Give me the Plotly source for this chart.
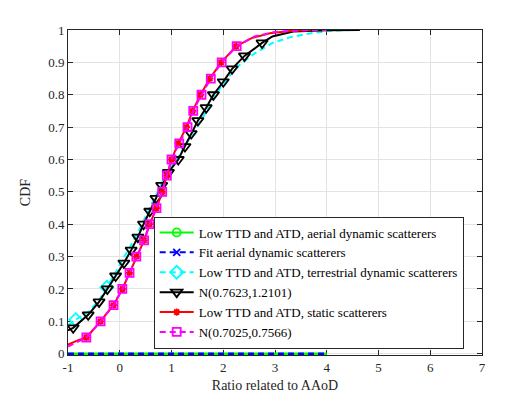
import plotly.graph_objects as go

# CDF of ratio related to AAoD

# aerial dynamic scatterers (flat at zero up to 4)
aerial_x = [-1, 0, 1, 2, 3, 4]
aerial_y = [0, 0, 0, 0, 0, 0]
fit_aerial_x = [-1, 0, 1, 2, 3, 4]
fit_aerial_y = [0, 0, 0, 0, 0, 0]

# terrestrial dynamic scatterers (cyan dashed)
terr_x = [-1, -0.85, -0.6, -0.4, -0.25, -0.1, 0.05, 0.2, 0.35, 0.46, 0.6, 0.7, 0.82, 0.95,
          1.1, 1.25, 1.4, 1.55, 1.7, 1.85, 2.05, 2.3, 2.6, 2.95, 3.3, 3.7, 4.05, 4.45]
terr_y = [0.088, 0.105, 0.13, 0.165, 0.205, 0.245, 0.29, 0.33, 0.375, 0.41, 0.455, 0.49, 0.53, 0.565,
          0.6, 0.64, 0.68, 0.715, 0.755, 0.8, 0.845, 0.89, 0.927, 0.96, 0.978, 0.99, 0.997, 1.0]
terr_mk = [1, 4]

# N(0.7623,1.2101) (black)
n1_x = [-1, -0.90, -0.61, -0.40, -0.24, -0.08, 0.08, 0.22, 0.35, 0.46, 0.58, 0.70, 0.81, 0.94,
        1.13, 1.26, 1.38, 1.51, 1.67, 1.81, 2.00, 2.17, 2.41, 2.75, 2.95, 3.35, 4.0, 4.64]
n1_y = [0.072, 0.08, 0.12, 0.16, 0.20, 0.24, 0.28, 0.32, 0.36, 0.40, 0.44, 0.48, 0.52, 0.56,
        0.60, 0.64, 0.68, 0.72, 0.76, 0.80, 0.84, 0.88, 0.92, 0.96, 0.98, 0.995, 0.999, 1.0]
n1_mk = list(range(1, 24))

# static scatterers (red)
static_x = [-1, -0.8, -0.645, -0.5, -0.37, -0.25, -0.12, 0.05, 0.19, 0.32, 0.47, 0.58, 0.71, 0.82,
            0.91, 1.0, 1.13, 1.29, 1.41, 1.56, 1.74, 1.96, 2.25, 2.55, 2.9, 3.3, 3.7]
static_y = [0.028, 0.042, 0.05, 0.075, 0.1, 0.125, 0.15, 0.2, 0.25, 0.3, 0.35, 0.4, 0.45, 0.5,
            0.55, 0.6, 0.65, 0.7, 0.75, 0.8, 0.85, 0.9, 0.95, 0.975, 0.99, 0.997, 1.0]
static_mk = [2, 4, 6] + list(range(7, 23))

# N(0.7025,0.7566) (magenta dashed)
n2_x = [-1, -0.8, -0.645, -0.37, -0.12, 0.05, 0.19, 0.32, 0.47, 0.58, 0.71, 0.82, 0.91, 1.0,
        1.15, 1.31, 1.42, 1.58, 1.76, 1.97, 2.26, 2.6, 3.0, 3.5, 4.0]
n2_y = [0.022, 0.037, 0.05, 0.1, 0.15, 0.2, 0.25, 0.3, 0.35, 0.4, 0.45, 0.5, 0.55, 0.6,
        0.65, 0.7, 0.75, 0.8, 0.85, 0.9, 0.95, 0.98, 0.994, 0.999, 1.0]
n2_mk = list(range(2, 21))

x_ticks = [-1, 0, 1, 2, 3, 4, 5, 6, 7]
x_labels = ["-1", "0", "1", "2", "3", "4", "5", "6", "7"]
y_ticks = [0, 0.1, 0.2, 0.3, 0.4, 0.5, 0.6, 0.7, 0.8, 0.9, 1]
y_labels = ["0", "0.1", "0.2", "0.3", "0.4", "0.5", "0.6", "0.7", "0.8", "0.9", "1"]

FONT = "Liberation Serif"
DASH = "6px,4px"

series = [
    dict(name="Low TTD and ATD, aerial dynamic scatterers", x=aerial_x, y=aerial_y, mk=[],
         color="#00FF00", dash="solid", symbol="circle-open", size=8),
    dict(name="Fit aerial dynamic scatterers", x=fit_aerial_x, y=fit_aerial_y, mk=[],
         color="#0000FF", dash=DASH, symbol="x-thin-open", size=7),
    dict(name="Low TTD and ATD, terrestrial dynamic scatterers", x=terr_x, y=terr_y, mk=terr_mk,
         color="#00FFFF", dash=DASH, symbol="diamond-open", size=10),
    dict(name="N(0.7623,1.2101)", x=n1_x, y=n1_y, mk=n1_mk,
         color="#000000", dash="solid", symbol="triangle-down-open", size=10),
    dict(name="Low TTD and ATD, static scatterers", x=static_x, y=static_y, mk=static_mk,
         color="#FF0000", dash="solid", symbol="asterisk-open", size=6),
    dict(name="N(0.7025,0.7566)", x=n2_x, y=n2_y, mk=n2_mk,
         color="#FF00FF", dash=DASH, symbol="square-open", size=8),
]

fig = go.Figure()
for s in series:
    fig.add_trace(go.Scatter(
        x=s["x"], y=s["y"], mode="lines", showlegend=False, hoverinfo="skip",
        line=dict(color=s["color"], width=2.5 if s["y"][0] == 0 else 2, dash=s["dash"]),
    ))
    if s["mk"]:
        fig.add_trace(go.Scatter(
            x=[s["x"][i] for i in s["mk"]], y=[s["y"][i] for i in s["mk"]],
            mode="markers", showlegend=False,
            marker=dict(symbol=s["symbol"], size=s["size"], color=s["color"],
                        line=dict(color=s["color"], width=1.8)),
        ))
    # legend entry
    fig.add_trace(go.Scatter(
        x=[None], y=[None], mode="lines+markers", name=s["name"],
        line=dict(color=s["color"], width=2, dash=s["dash"]),
        marker=dict(symbol=s["symbol"], size=s["size"], color=s["color"],
                    line=dict(color=s["color"], width=1.8)),
    ))

axis_style = dict(
    showgrid=True, gridcolor="#E3E3E3", gridwidth=1,
    showline=True, linecolor="#262626", linewidth=1, mirror="allticks",
    ticks="inside", ticklen=5, tickcolor="#262626",
    tickfont=dict(family=FONT, size=13, color="#262626"),
    zeroline=False, layer="below traces", automargin=False,
)

# page body has an 8px margin, so the figure is 8px smaller than the window
fig.update_layout(
    width=524, height=391,
    margin=dict(l=60, r=50, t=22, b=44),
    paper_bgcolor="white", plot_bgcolor="white",
    font=dict(family=FONT, size=13, color="#262626"),
    xaxis=dict(axis_style, range=[-1, 7], tickvals=x_ticks, ticktext=x_labels,
               title=dict(text="Ratio related to AAoD", font=dict(family=FONT, size=14), standoff=6)),
    yaxis=dict(axis_style, range=[-0.004, 1], tickvals=y_ticks, ticktext=y_labels,
               title=dict(text="CDF", font=dict(family=FONT, size=14), standoff=14)),
    legend=dict(
        x=0.207, y=0.02, xanchor="left", yanchor="bottom",
        bgcolor="white", bordercolor="#262626", borderwidth=1,
        font=dict(family=FONT, size=13, color="#000000"),
        itemwidth=34, tracegroupgap=0,
    ),
)

fig.write_html("out.html")
